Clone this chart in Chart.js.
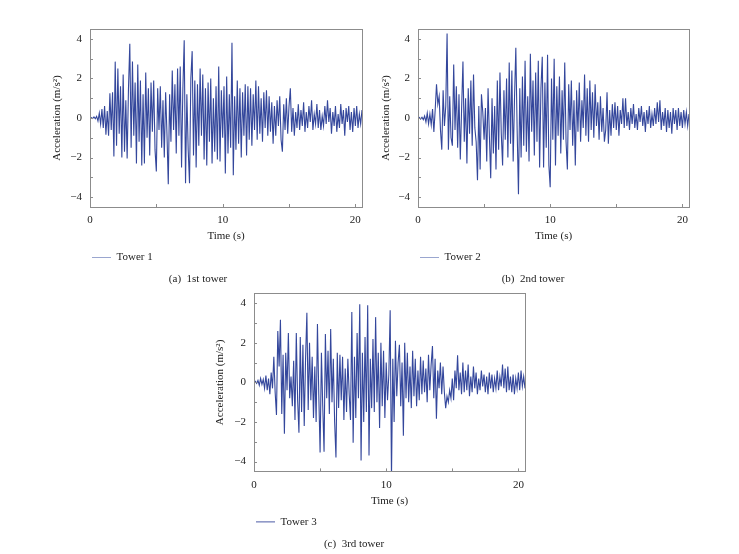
<!DOCTYPE html>
<html>
<head>
<meta charset="utf-8">
<script src="https://cdn.jsdelivr.net/npm/chart.js@4.4.1/dist/chart.umd.min.js"></script>
<style>
  html, body { margin: 0; padding: 0; background: #fff; }
  body { width: 739px; height: 554px; position: relative; overflow: hidden; }
  canvas { position: absolute; }
</style>
</head>
<body>
<canvas id="c1" width="329" height="267" style="left:34px;top:20px"></canvas>
<canvas id="c2" width="313" height="267" style="left:377px;top:20px"></canvas>
<canvas id="c3" width="343" height="267" style="left:183px;top:284px"></canvas>
<script>
// acceleration samples every 0.1 s
const tower1 = [
  0, 0.02, -0.03, 0.05, -0.04, 0.08, -0.15, 0.25, -0.3, 0.45,
  -0.5, 0.6, -0.85, 0.35, -0.9, 1.25, -0.6, 1.3, -1.95, 2.85,
  -1.4, 2.5, -0.8, 1.6, -2.0, 2.2, -1.7, 0.9, -2.05, 1.5,
  3.75, -1.5, 2.85, -0.9, 1.8, -2.3, 2.7, -1.2, 1.9, -2.4,
  1.2, -2.3, 2.3, -1.0, 1.5, -1.9, 1.8, -0.7, 1.9, -1.6,
  -2.7, 1.5, -0.6, 1.6, -1.5, 0.9, -2.0, 1.3, -0.8, -3.35,
  1.2, -1.2, 2.4, -0.6, 1.7, -1.8, 2.5, -0.9, 2.6, -2.5,
  1.5, 3.93, -3.3, 1.2, -1.6, -3.3, 2.0, 3.38, -1.9, 1.9,
  -2.5, 1.7, -1.4, 2.5, -0.9, 2.2, -2.1, 1.5, -2.4, 1.8,
  -1.2, 2.0, -2.3, 1.0, -1.7, 1.6, -2.1, 2.6, -2.2, 1.4,
  -1.0, 1.6, -2.8, 2.1, -1.8, 1.2, -1.5, 3.8, -2.9, 1.1,
  -1.6, 1.9, -1.3, 1.5, -2.0, 1.3, -0.9, 1.7, -1.9, 1.6,
  -1.1, 1.5, -1.4, 1.2, -0.6, 1.9, -1.1, 1.6, -0.8, 1.0,
  -1.2, 1.3, -0.5, 1.4, -0.9, 1.1, -0.7, 0.8, -1.3, 0.6,
  -0.9, 0.9, -0.4, 1.1, -1.1, -1.7, 0.7, -0.6, 1.0, -0.8,
  0.6, 1.5, -0.7, 0.5, -0.9, 0.3, -0.5, 0.7, -0.6, 0.4,
  -0.4, 0.8, -0.7, 0.3, -0.5, 0.6, -0.2, 0.9, -0.6, 0.2,
  -0.3, 0.7, -0.5, 0.4, -0.6, 0.1, -0.4, 0.6, -0.3, 0.9,
  -0.2, 0.5, -0.8, 0.3, -0.4, 0.6, -0.7, 0.2, -0.5, 0.7,
  -0.3, 0.4, -0.9, 0.5, -0.2, 0.6, -0.6, 0.3, -0.7, 0.5,
  -0.4, 0.6, -0.5, 0.2, -0.3, 0.4
]
const tower2 = [
  0, 0.03, -0.05, 0.04, -0.08, 0.1, -0.2, 0.25, -0.3, 0.2,
  -0.35, 0.45, -0.7, 0.4, 1.7, 0.7, 1.1, -0.6, -1.6, 1.4,
  -0.4, 0.6, 4.27, -1.6, 1.1, -1.0, -1.4, 2.7, -0.6, 1.6,
  -1.5, 1.2, -2.1, 0.5, 2.85, -1.2, 1.0, -2.3, 1.5, -0.8,
  1.9, -1.4, 2.2, -0.5, -1.2, -3.15, 0.6, -2.6, 1.2, 0.3,
  -1.1, 0.5, -2.2, 1.5, -0.9, -3.05, 1.0, -1.8, 0.6, -2.6,
  1.9, -1.6, 2.3, -0.8, -2.4, 1.4, -1.1, 2.0, -2.0, 2.8,
  -1.3, 2.4, -2.2, 1.0, 3.55, -0.6, -3.85, 1.5, -2.0, 2.1,
  -1.4, 2.9, -1.7, 1.1, -2.2, 3.25, -0.7, 1.9, -1.9, 2.3,
  -1.2, 2.9, -2.5, 1.5, 3.1, -2.5, 1.8, -1.5, 3.2, -2.4,
  -3.5, 2.0, -1.1, 3.0, -2.4, 1.6, -0.9, 2.1, -1.8, 1.4,
  -1.1, 2.8, -1.2, -2.6, 1.7, -0.6, 1.9, -1.4, 0.9, -2.4,
  1.4, -0.7, 1.8, -1.2, 0.9, -0.5, 2.2, -0.9, 1.5, -1.2,
  1.9, -0.6, 1.3, -1.0, 1.7, -0.4, 0.8, -1.1, 1.1, -0.7,
  0.5, -1.2, -0.6, 1.3, -1.3, 0.4, -0.9, 0.7, -0.5, 0.8,
  -0.6, 0.6, -0.9, 0.4, -0.3, 1.0, -0.5, 1.0, -0.4, 0.3,
  -0.6, 0.5, -0.3, 0.7, -0.5, 0.2, -0.6, 0.5, -0.2, 0.6,
  -0.4, 0.3, -0.7, 0.4, -0.3, 0.6, -0.5, 0.2, -0.4, 0.5,
  -0.3, 0.8, -0.2, 0.9, -0.6, 0.3, -0.4, 0.5, -0.7, 0.4,
  -0.5, 0.3, -0.8, 0.5, -0.3, 0.4, -0.6, 0.5, -0.4, 0.3,
  -0.5, 0.4, -0.3, 0.3, -0.4, 0.2
]
const tower3 = [
  0, 0.05, -0.05, 0.1, -0.15, 0.2, -0.1, 0.15, -0.3, 0.35,
  -0.4, 0.2, -0.6, 0.5, -0.3, 1.3, -0.5, -1.65, 2.6, 0.8,
  3.17, -1.6, 1.4, -2.6, 1.5, -0.4, 2.5, -0.8, 0.3, -1.2,
  1.1, -1.9, 2.5, -0.9, -2.55, 2.3, -1.5, 1.9, -2.2, 1.2,
  3.52, -1.4, 2.0, -0.9, 1.3, -1.8, 0.8, -2.0, 2.95, -0.6,
  -3.55, 1.5, -1.2, -3.5, 2.45, -0.8, 1.6, -1.6, 2.7, -1.0,
  1.2, -2.0, -3.8, 1.5, -1.3, 1.4, -0.9, 1.3, -1.9, 0.7,
  -1.5, 1.2, -0.6, -1.9, 3.56, -3.05, 1.3, -1.8, 2.5, -0.8,
  3.95, -3.95, 1.5, -2.0, 2.3, -1.5, 3.9, -3.7, 1.2, -1.3,
  2.2, -1.5, 3.3, -1.0, 1.5, -2.3, 2.0, -1.2, 1.6, -1.8,
  1.0, -0.9, 0.4, 3.65, -4.9, 1.2, -2.0, 2.1, -0.7, 1.0,
  1.9, -1.2, 1.0, -2.7, 2.0, -0.8, 1.5, -1.0, 0.8, -1.3,
  1.6, -0.7, 1.2, -1.2, 0.6, -0.9, 1.3, -0.6, 1.1, -0.5,
  0.7, -1.0, 1.4, -0.4, 0.9, 1.84, -0.8, 1.2, -1.84, 0.6,
  -0.3, 1.0, -0.6, 0.8, -0.5, -1.3, -0.7, -1.0, -0.4, -0.8,
  0.2, -0.9, 0.6, -0.3, 1.37, -0.4, 0.5, -0.6, 1.0, -0.5,
  0.6, -0.4, 0.9, -0.7, 0.3, -0.5, 0.8, -0.3, 0.5, -0.6,
  0.2, -0.4, 0.6, -0.2, 0.4, -0.5, 0.3, -0.6, 0.5, -0.3,
  0.4, -0.5, 0.2, -0.3, 0.6, -0.4, 0.3, -0.2, 0.9, -0.3,
  0.7, -0.5, 0.8, -0.4, 0.3, -0.5, 0.4, -0.6, 0.2, -0.3,
  0.5, -0.4, 0.6, -0.2, 0.3, -0.3
]
const time = tower1.map((_, i) => i / 10)

const xTicks = [0, 10, 20]
const yTicks = [-4, -2, 0, 2, 4]
const xMarks = [0, 5, 10, 15, 20]
const yMarks = [-4, -3, -2, -1, 0, 1, 2, 3, 4]

const serif = 'Liberation Serif'
const lineColor = '#34479c'

// box round the plot and the small inward tick marks
const framePlugin = {
  id: 'frame',
  afterDatasetsDraw(chart) {
    const { ctx, chartArea: a, scales: { x, y } } = chart
    ctx.save()
    ctx.strokeStyle = '#8c8c8c'
    ctx.lineWidth = 1
    ctx.strokeRect(Math.round(a.left) + 0.5, Math.round(a.top) + 0.5,
      Math.round(a.right - a.left), Math.round(a.bottom - a.top))
    ctx.beginPath()
    xMarks.forEach(v => {
      const px = Math.round(x.getPixelForValue(v)) + 0.5
      ctx.moveTo(px, a.bottom)
      ctx.lineTo(px, a.bottom - 3)
    })
    yMarks.forEach(v => {
      const py = Math.round(y.getPixelForValue(v)) + 0.5
      ctx.moveTo(a.left, py)
      ctx.lineTo(a.left + 3, py)
    })
    ctx.stroke()
    ctx.restore()
  }
}

// keep the plot box where the figure has it: no extra room for edge labels
const noEdgePadding = s => {
  s.paddingTop = 0
  s.paddingBottom = 0
  s.paddingLeft = 0
  s.paddingRight = 0
}

const makeChart = (id, values, label, caption, cfg) => {
  new Chart(document.getElementById(id), {
    type: 'line',
    data: {
      datasets: [{
        label: label,
        data: values.map((v, i) => ({ x: time[i], y: v })),
        borderColor: lineColor,
        borderWidth: 1.1,
        pointRadius: 0,
        tension: 0,
        fill: false
      }]
    },
    options: {
      responsive: false,
      animation: false,
      events: [],
      layout: { padding: { top: cfg.padTop, right: 1, bottom: cfg.padBottom, left: 0 } },
      scales: {
        x: {
          type: 'linear',
          min: 0,
          max: 20.5,
          afterBuildTicks: s => { s.ticks = xTicks.map(v => ({ value: v })) },
          afterFit: s => { s.height = 43; noEdgePadding(s) },
          grid: { display: false, drawTicks: false },
          border: { display: false },
          ticks: { padding: 7, color: '#222', font: { family: serif, size: 11 } },
          title: {
            display: true, text: 'Time (s)', color: '#222',
            font: { family: serif, size: 11 }, padding: { top: 0, bottom: 7 }
          }
        },
        y: {
          min: -4.5,
          max: 4.5,
          afterBuildTicks: s => { s.ticks = yTicks.map(v => ({ value: v })) },
          afterFit: s => { s.width = cfg.yWidth; noEdgePadding(s) },
          grid: { display: false, drawTicks: false },
          border: { display: false },
          ticks: {
            padding: 8, color: '#222', font: { family: serif, size: 11 },
            callback: v => (v < 0 ? '\u2212' + Math.abs(v) : String(v))
          },
          title: {
            display: true, text: 'Acceleration (m/s\u00b2)', color: '#222',
            font: { family: serif, size: 11 }, padding: { top: cfg.titlePad, bottom: 0 }
          }
        }
      },
      plugins: {
        tooltip: { enabled: false },
        legend: {
          position: 'bottom',
          align: 'start',
          fullSize: false,
          labels: {
            usePointStyle: true,
            pointStyle: 'line',
            pointStyleWidth: 19,
            padding: 2,
            color: '#222',
            font: { family: serif, size: 11 },
            generateLabels: chart => {
              const items = Chart.defaults.plugins.legend.labels.generateLabels(chart)
              items.forEach(it => { it.strokeStyle = cfg.legendColor; it.lineWidth = 1 })
              return items
            }
          }
        },
        title: {
          display: true,
          position: 'bottom',
          text: caption,
          color: '#222',
          font: { family: serif, size: 11, weight: 'normal' },
          padding: { top: 0, bottom: 0 }
        }
      }
    },
    plugins: [framePlugin]
  })
}

makeChart('c1', tower1, 'Tower 1', '(a)  1st tower',
  { padTop: 9, padBottom: 0.8, yWidth: 56, titlePad: 16.4, legendColor: '#9aa6cf' })
makeChart('c2', tower2, 'Tower 2', '(b)  2nd tower',
  { padTop: 9, padBottom: 0.8, yWidth: 41, titlePad: 2.4, legendColor: '#9aa6cf' })
makeChart('c3', tower3, 'Tower 3', '(c)  3rd tower',
  { padTop: 9.4, padBottom: 0.4, yWidth: 71, titlePad: 30.9, legendColor: '#4b5aa5' })
</script>
</body>
</html>
